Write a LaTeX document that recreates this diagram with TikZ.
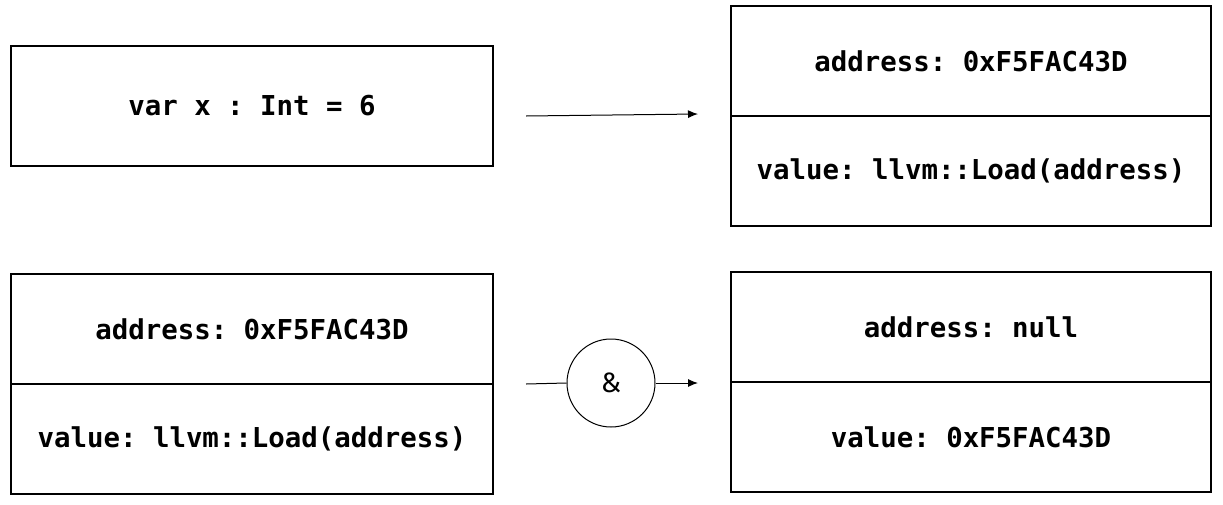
\documentclass[tikz,border=0pt]{standalone}
\usepackage{fontspec}
\setmonofont{DejaVu Sans Mono}
\newfontfamily\ampfont{Fira Sans}
\usetikzlibrary{positioning,arrows.meta}

\begin{document}
\begin{tikzpicture}[x=1pt, y=-1pt, node distance=0pt]
  % Define styles
  \tikzstyle{cell} = [rectangle, minimum width=480pt, minimum height=110pt, inner sep=0pt,
                      outer sep=0pt, text centered, draw=black, line width=1.2pt,
                      font=\ttfamily\bfseries\fontsize{27.4}{30}\selectfont]
  \tikzstyle{op} = [circle, minimum size=88pt, inner sep=0pt, draw=black, line width=1pt,
                    font=\ampfont\fontsize{28}{32}\selectfont]
  \tikzstyle{arrow} = [line width=1pt, ->, >={Latex[length=10pt,width=8pt]}]

  \useasboundingbox (0,0) rectangle (1223,504);

  % Top row
  \node (decl) [cell, minimum width=482pt, minimum height=120pt] at (252,106) {var x : Int = 6};
  \node (addrA) [cell] at (971,61) {address: 0xF5FAC43D};
  \node (valA) [cell, below=of addrA] {value: llvm::Load(address)};

  % Bottom row
  \node (addrB) [cell, minimum width=482pt] at (252,329) {address: 0xF5FAC43D};
  \node (valB) [cell, minimum width=482pt, below=of addrB] {value: llvm::Load(address)};
  \node (addrC) [cell] at (971,327) {address: null};
  \node (valC) [cell, below=of addrC] {value: 0xF5FAC43D};
  \node (amp) [op] at (611,383) {\&};

  % Arrows
  \coordinate (topin) at (526,116);
  \coordinate (topout) at (698,114);
  \coordinate (ampin) at (526,384);
  \coordinate (ampout) at (698,383);
  \draw [arrow] (topin) -- (topout);
  \draw [line width=1pt] (ampin) -- (amp.west);
  \draw [arrow] (amp.east) -- (ampout);
\end{tikzpicture}
\end{document}
